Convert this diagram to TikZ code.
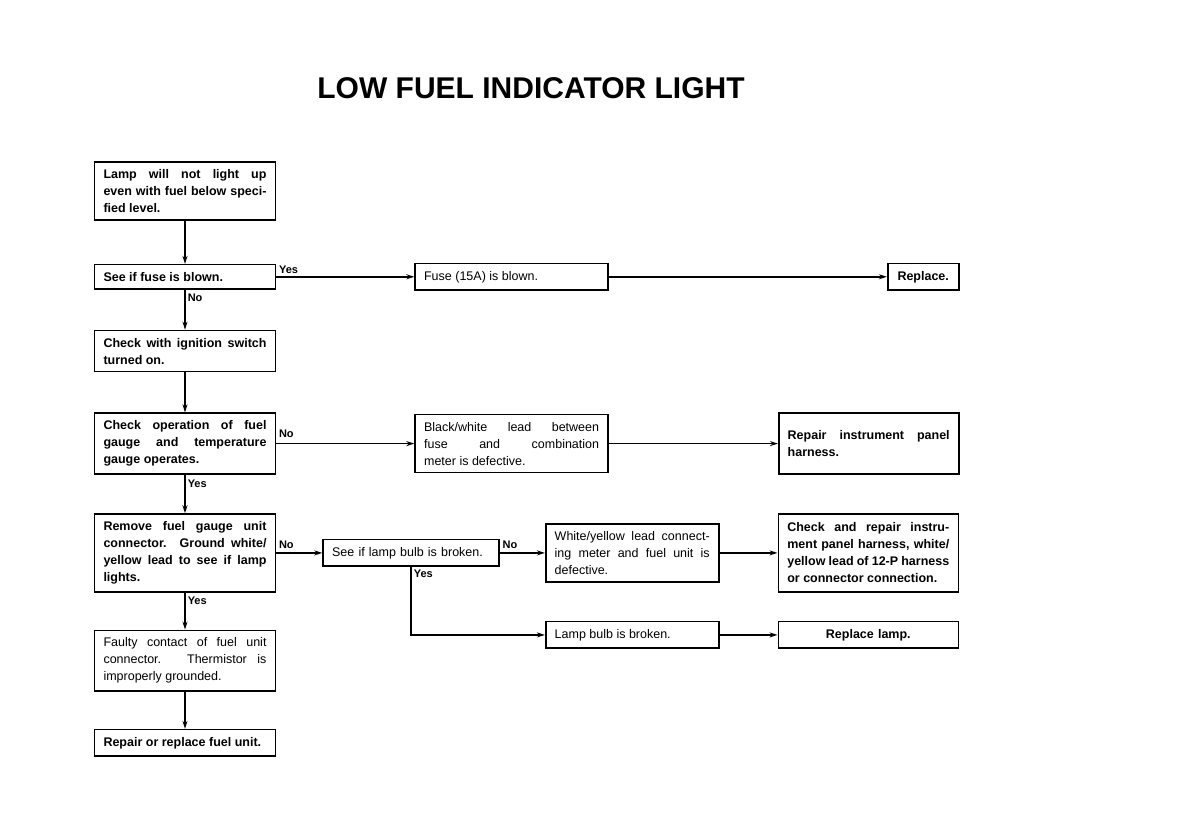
\documentclass[tikz,border=0pt]{standalone}
\usepackage{fontspec}
\setmainfont{Liberation Sans}
\usetikzlibrary{arrows.meta,positioning}

\tikzset{
  stepbox/.style={draw, line width=1.6pt, inner xsep=9pt, inner ysep=7.5pt, align=justify,
    font=\fontsize{12.5}{17}\selectfont},
  boldbox/.style={font=\bfseries\fontsize{12.5}{17}\selectfont},
  colbox/.style={stepbox, text width=163pt},
  widebox/.style={stepbox, text width=175pt},
  rightbox/.style={stepbox, text width=162pt},
  midbox/.style={stepbox, text width=155pt},
  flow/.style={line width=1.5pt, -{Stealth[length=8pt,width=5pt]}},
  lbl/.style={font=\bfseries\fontsize{11}{13}\selectfont, inner sep=2pt}
}

\begin{document}
\begin{tikzpicture}[x=1pt, y=-1pt]
  \useasboundingbox (0,0) rectangle (1199,840);
  \node (title) at (531,88) {\bfseries\fontsize{30}{36}\selectfont LOW FUEL INDICATOR LIGHT};

  % left column
  \node[colbox, boldbox] (lamp) at (185,191)
    {Lamp will not light up\linebreak even with fuel below speci-\linebreak fied level.};
  \node[colbox, boldbox, below=43pt of lamp] (fuse) {See if fuse is blown.};
  \node[colbox, boldbox, below=40pt of fuse] (ignition) {Check with ignition switch\linebreak turned on.};
  \node[colbox, boldbox, below=40pt of ignition] (gauge) {Check operation of fuel\linebreak gauge and temperature\linebreak gauge operates.};
  \node[colbox, boldbox, below=38.5pt of gauge] (connector) {Remove fuel gauge unit\linebreak connector. Ground white/\linebreak yellow lead to see if lamp\linebreak lights.};
  \node[colbox, below=37pt of connector] (faulty) {Faulty contact of fuel unit\linebreak connector. Thermistor is\linebreak improperly grounded.};
  \node[colbox, boldbox, below=37pt of faulty] (fuelunit) {Repair or replace fuel unit.};

  % right side
  \node[widebox, right=138pt of fuse] (blown) {Fuse (15A) is blown.};
  \node[stepbox, boldbox, text width=53pt, align=center, right=278pt of blown] (replace) {Replace.};
  \node[widebox, right=138pt of gauge] (blackwhite) {Black/white lead between\linebreak fuse and combination\linebreak meter is defective.};
  \node[rightbox, boldbox, minimum height=61pt, right=169pt of blackwhite] (panel) {Repair instrument panel\linebreak harness.};
  \node[stepbox, text width=158pt, align=left, right=46pt of connector] (bulb) {See if lamp bulb is broken.};
  \node[midbox, right=45pt of bulb] (wymeter) {White/yellow lead connect-\linebreak ing meter and fuel unit is\linebreak defective.};
  \node[rightbox, boldbox, minimum height=78pt, right=58pt of wymeter] (harness) {Check and repair instru-\linebreak ment panel harness, white/\linebreak yellow lead of 12-P harness\linebreak or connector connection.};
  \node[midbox, below=38pt of wymeter.south west, anchor=north west] (broken) {Lamp bulb is broken.};
  \node[rightbox, boldbox, align=center, right=58pt of broken] (lampnew) {Replace lamp.};

  % Edges
  \draw[flow] (lamp) -- (fuse);
  \draw[flow] (fuse) -- node[lbl, pos=0, above right] {Yes} (blown);
  \draw[flow] (blown) -- (replace);
  \draw[flow] (fuse) -- node[lbl, pos=0, below right, yshift=-2pt] {No} (ignition);
  \draw[flow] (ignition) -- (gauge);
  \draw[flow] (gauge) -- node[lbl, pos=0, above right, yshift=3pt] {No} (blackwhite);
  \draw[flow] (blackwhite) -- (panel);
  \draw[flow] (gauge) -- node[lbl, pos=0, below right, yshift=-2pt] {Yes} (connector);
  \draw[flow] (connector) -- node[lbl, pos=0, above right, yshift=2pt] {No} (bulb);
  \draw[flow] (bulb) -- node[lbl, pos=0, above right, yshift=2pt] {No} (wymeter);
  \draw[flow] (wymeter) -- (harness);
  \draw[flow] (bulb.south) |- node[lbl, pos=0, below right] {Yes} (broken);
  \draw[flow] (broken) -- (lampnew);
  \draw[flow] (connector) -- node[lbl, pos=0, below right, yshift=-2pt] {Yes} (faulty);
  \draw[flow] (faulty) -- (fuelunit);
\end{tikzpicture}
\end{document}
